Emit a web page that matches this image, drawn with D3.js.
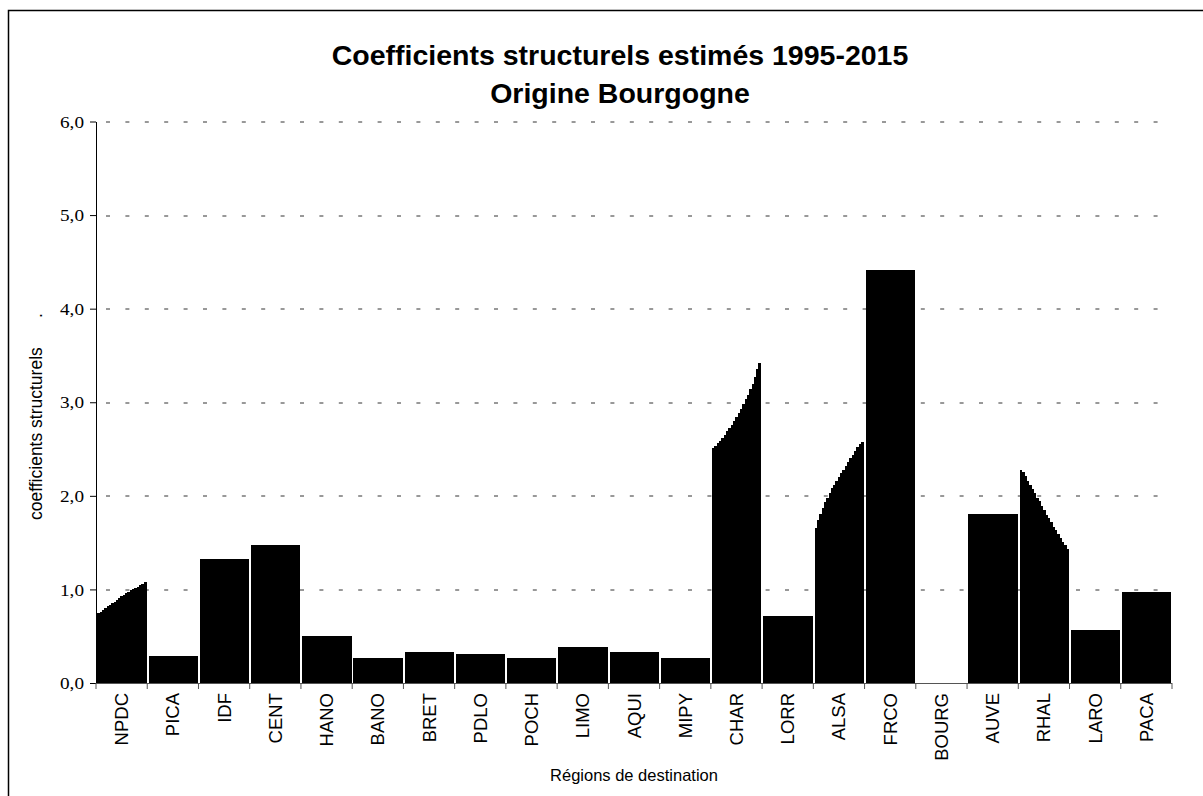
<!DOCTYPE html>
<html>
<head>
<meta charset="utf-8">
<script src="https://cdn.jsdelivr.net/npm/d3@7"></script>
<style>
    body { margin: 0; background: #fff; }
    svg { display: block; }
</style>
</head>
<body>
<div id="chart"></div>
<script>
// regions (destination) and years
const regions = ["NPDC", "PICA", "IDF", "CENT", "HANO", "BANO", "BRET", "PDLO", "POCH", "LIMO",
    "AQUI", "MIPY", "CHAR", "LORR", "ALSA", "FRCO", "BOURG", "AUVE", "RHAL", "LARO", "PACA"];
const years = [1995, 1996, 1997, 1998, 1999, 2000, 2001, 2002, 2003, 2004, 2005,
    2006, 2007, 2008, 2009, 2010, 2011, 2012, 2013, 2014, 2015];

// estimated coefficients, one value per year (1995 -> 2015)
const NPDC = [0.75, 0.76, 0.78, 0.80, 0.82, 0.83, 0.85, 0.87, 0.89, 0.91, 0.93, 0.94, 0.96, 0.97, 0.99, 1.00, 1.02, 1.03, 1.05, 1.06, 1.08];
const PICA = [0.29, 0.29, 0.29, 0.29, 0.29, 0.29, 0.29, 0.29, 0.29, 0.29, 0.29, 0.29, 0.29, 0.29, 0.29, 0.29, 0.29, 0.29, 0.29, 0.29, 0.29];
const IDF  = [1.32, 1.32, 1.32, 1.32, 1.32, 1.32, 1.32, 1.32, 1.32, 1.32, 1.32, 1.32, 1.32, 1.32, 1.32, 1.32, 1.32, 1.32, 1.32, 1.32, 1.32];
const CENT = [1.47, 1.47, 1.47, 1.47, 1.47, 1.47, 1.47, 1.47, 1.47, 1.47, 1.47, 1.47, 1.47, 1.47, 1.47, 1.47, 1.47, 1.47, 1.47, 1.47, 1.47];
const HANO = [0.50, 0.50, 0.50, 0.50, 0.50, 0.50, 0.50, 0.50, 0.50, 0.50, 0.50, 0.50, 0.50, 0.50, 0.50, 0.50, 0.50, 0.50, 0.50, 0.50, 0.50];
const BANO = [0.27, 0.27, 0.27, 0.27, 0.27, 0.27, 0.27, 0.27, 0.27, 0.27, 0.27, 0.27, 0.27, 0.27, 0.27, 0.27, 0.27, 0.27, 0.27, 0.27, 0.27];
const BRET = [0.33, 0.33, 0.33, 0.33, 0.33, 0.33, 0.33, 0.33, 0.33, 0.33, 0.33, 0.33, 0.33, 0.33, 0.33, 0.33, 0.33, 0.33, 0.33, 0.33, 0.33];
const PDLO = [0.31, 0.31, 0.31, 0.31, 0.31, 0.31, 0.31, 0.31, 0.31, 0.31, 0.31, 0.31, 0.31, 0.31, 0.31, 0.31, 0.31, 0.31, 0.31, 0.31, 0.31];
const POCH = [0.27, 0.27, 0.27, 0.27, 0.27, 0.27, 0.27, 0.27, 0.27, 0.27, 0.27, 0.27, 0.27, 0.27, 0.27, 0.27, 0.27, 0.27, 0.27, 0.27, 0.27];
const LIMO = [0.38, 0.38, 0.38, 0.38, 0.38, 0.38, 0.38, 0.38, 0.38, 0.38, 0.38, 0.38, 0.38, 0.38, 0.38, 0.38, 0.38, 0.38, 0.38, 0.38, 0.38];
const AQUI = [0.33, 0.33, 0.33, 0.33, 0.33, 0.33, 0.33, 0.33, 0.33, 0.33, 0.33, 0.33, 0.33, 0.33, 0.33, 0.33, 0.33, 0.33, 0.33, 0.33, 0.33];
const MIPY = [0.27, 0.27, 0.27, 0.27, 0.27, 0.27, 0.27, 0.27, 0.27, 0.27, 0.27, 0.27, 0.27, 0.27, 0.27, 0.27, 0.27, 0.27, 0.27, 0.27, 0.27];
const CHAR = [2.51, 2.53, 2.56, 2.59, 2.62, 2.65, 2.69, 2.72, 2.76, 2.80, 2.84, 2.88, 2.93, 2.98, 3.03, 3.08, 3.14, 3.20, 3.27, 3.35, 3.42];
const LORR = [0.72, 0.72, 0.72, 0.72, 0.72, 0.72, 0.72, 0.72, 0.72, 0.72, 0.72, 0.72, 0.72, 0.72, 0.72, 0.72, 0.72, 0.72, 0.72, 0.72, 0.72];
const ALSA = [1.66, 1.74, 1.81, 1.87, 1.93, 1.98, 2.03, 2.08, 2.12, 2.16, 2.20, 2.24, 2.28, 2.32, 2.36, 2.40, 2.44, 2.48, 2.52, 2.55, 2.58];
const FRCO = [4.41, 4.41, 4.41, 4.41, 4.41, 4.41, 4.41, 4.41, 4.41, 4.41, 4.41, 4.41, 4.41, 4.41, 4.41, 4.41, 4.41, 4.41, 4.41, 4.41, 4.41];
const BOURG = [0, 0, 0, 0, 0, 0, 0, 0, 0, 0, 0, 0, 0, 0, 0, 0, 0, 0, 0, 0, 0];
const AUVE = [1.81, 1.81, 1.81, 1.81, 1.81, 1.81, 1.81, 1.81, 1.81, 1.81, 1.81, 1.81, 1.81, 1.81, 1.81, 1.81, 1.81, 1.81, 1.81, 1.81, 1.81];
const RHAL = [2.28, 2.25, 2.21, 2.16, 2.12, 2.07, 2.03, 1.98, 1.94, 1.89, 1.85, 1.80, 1.76, 1.72, 1.67, 1.63, 1.59, 1.55, 1.51, 1.47, 1.43];
const LARO = [0.57, 0.57, 0.57, 0.57, 0.57, 0.57, 0.57, 0.57, 0.57, 0.57, 0.57, 0.57, 0.57, 0.57, 0.57, 0.57, 0.57, 0.57, 0.57, 0.57, 0.57];
const PACA = [0.97, 0.97, 0.97, 0.97, 0.97, 0.97, 0.97, 0.97, 0.97, 0.97, 0.97, 0.97, 0.97, 0.97, 0.97, 0.97, 0.97, 0.97, 0.97, 0.97, 0.97];

const series = [NPDC, PICA, IDF, CENT, HANO, BANO, BRET, PDLO, POCH, LIMO,
    AQUI, MIPY, CHAR, LORR, ALSA, FRCO, BOURG, AUVE, RHAL, LARO, PACA];

const yTicks = [0, 1, 2, 3, 4, 5, 6];

// flat table: one row per region x year
let rows = [];
regions.forEach((r, i) => {
    years.forEach((yr, j) => rows.push({region: r, year: yr, value: series[i][j]}));
});

const W = 1203, H = 796;
const margin = {top: 121.5, right: 31, bottom: 113, left: 96};
const width = W - margin.left - margin.right;
const height = H - margin.top - margin.bottom;
const sans = "Liberation Sans, Arial, sans-serif";

const svg = d3.select("#chart").append("svg")
    .attr("width", W)
    .attr("height", H);

// outer frame (cut off at right and bottom)
svg.append("rect")
    .attr("x", 8.5).attr("y", 10.5)
    .attr("width", W + 20).attr("height", H + 20)
    .attr("fill", "none")
    .attr("stroke", "#000")
    .attr("stroke-width", 1.5);

const g = svg.append("g")
    .attr("transform", "translate(" + margin.left + "," + margin.top + ")");

// title
const title = svg.append("g")
    .attr("font-family", sans)
    .attr("font-weight", "bold")
    .attr("font-size", 28.5)
    .attr("text-anchor", "middle");
title.append("text").attr("x", 620).attr("y", 65).text("Coefficients structurels estimés 1995-2015");
title.append("text").attr("x", 620).attr("y", 103).text("Origine Bourgogne");

// scales
const x = d3.scaleBand().domain(regions).range([0, width]).paddingInner(0.05).paddingOuter(0.025);
const xIn = d3.scaleBand().domain(years).range([0, x.bandwidth()]).padding(0);
const y = d3.scaleLinear().domain([0, 6]).range([height, 0]);

// gridlines
g.append("g")
    .selectAll("line")
    .data(yTicks.filter(d => d > 0))
    .join("line")
    .attr("x1", 0).attr("x2", width)
    .attr("y1", d => Math.round(y(d)) + 0.5)
    .attr("y2", d => Math.round(y(d)) + 0.5)
    .attr("stroke", "#333")
    .attr("stroke-width", 1)
    .attr("stroke-dasharray", "4,15.4")
    .attr("stroke-dashoffset", -10);

// bars
g.append("g")
    .attr("shape-rendering", "crispEdges")
    .selectAll("rect")
    .data(rows.filter(d => d.value > 0))
    .join("rect")
    .attr("x", d => x(d.region) + xIn(d.year))
    .attr("width", xIn.bandwidth() + 0.6)
    .attr("y", d => y(d.value))
    .attr("height", d => height - y(d.value))
    .attr("fill", "#000");

// y axis
const yAxis = g.append("g")
    .call(d3.axisLeft(y).tickValues(yTicks).tickSize(6).tickSizeOuter(0)
        .tickFormat(d => d3.format(".1f")(d).replace(".", ",")));
yAxis.select(".domain").attr("stroke", "#000");
yAxis.selectAll("line").attr("stroke", "#000");
yAxis.selectAll("text")
    .attr("font-family", "Liberation Serif, Times New Roman, serif")
    .attr("font-size", 17)
    .attr("fill", "#000")
    .attr("x", -12)
    .attr("dy", "0.33em")
    .attr("textLength", 24)
    .attr("lengthAdjust", "spacingAndGlyphs");

// x axis: ticks on category boundaries
const xAxisG = g.append("g")
    .attr("transform", "translate(0," + height + ")");
xAxisG.append("line")
    .attr("x1", 0).attr("x2", width)
    .attr("y1", 0.5).attr("y2", 0.5)
    .attr("stroke", "#555");
xAxisG.selectAll(".tk")
    .data(d3.range(regions.length + 1))
    .join("line")
    .attr("class", "tk")
    .attr("x1", i => i * x.step()).attr("x2", i => i * x.step())
    .attr("y1", 0).attr("y2", 6)
    .attr("stroke", "#555");
xAxisG.selectAll(".lbl")
    .data(regions)
    .join("text")
    .attr("class", "lbl")
    .attr("transform", d => "translate(" + (x(d) + x.bandwidth() / 2 + 6.5) + ",10) rotate(-90)")
    .attr("text-anchor", "end")
    .attr("font-family", sans)
    .attr("font-size", 18.5)
    .text(d => d);

// axis titles
svg.append("text")
    .attr("x", 634).attr("y", 781)
    .attr("text-anchor", "middle")
    .attr("font-family", sans)
    .attr("font-size", 16.5)
    .text("Régions de destination");

svg.append("text")
    .attr("transform", "translate(42,520) rotate(-90)")
    .attr("text-anchor", "start")
    .attr("font-family", sans)
    .attr("font-size", 17.5)
    .style("white-space", "pre")
    .text("coefficients structurels      .");
</script>
</body>
</html>
